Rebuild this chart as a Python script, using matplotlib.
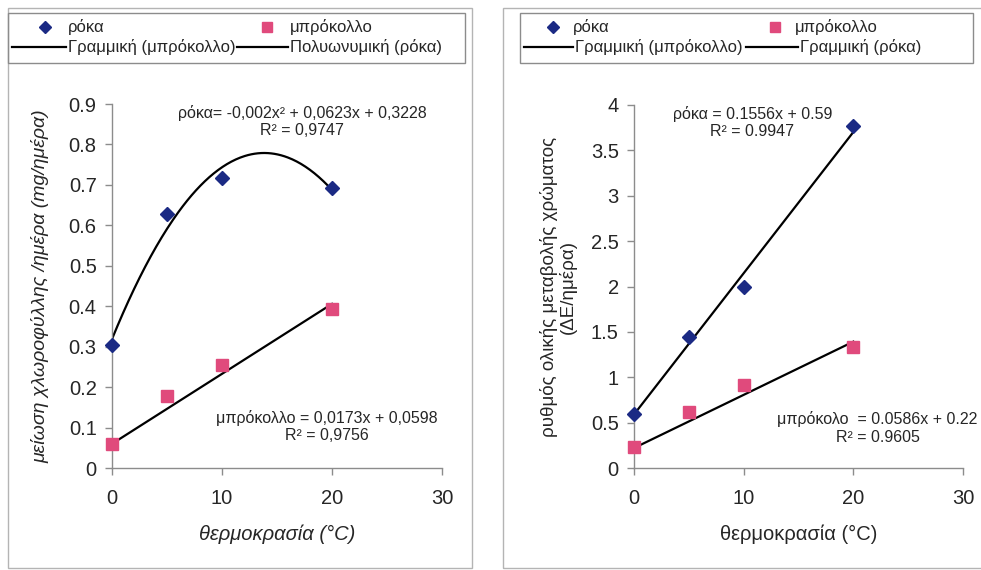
import numpy as np
import matplotlib
matplotlib.use("Agg")
import matplotlib.pyplot as plt
from matplotlib.patches import Rectangle
from matplotlib.lines import Line2D

plt.rcParams['font.family'] = ['Liberation Sans', 'DejaVu Sans']

# ---- data ----
temps = [0, 5, 10, 20]
# left chart: chlorophyll reduction
roka_chl = [0.305, 0.628, 0.716, 0.692]
brocc_chl = [0.060, 0.178, 0.254, 0.392]
# right chart: colour change rate
roka_col = [0.60, 1.44, 2.00, 3.77]
brocc_col = [0.23, 0.62, 0.92, 1.33]

# trendline coefficients shown on the charts (slope, intercept)
brocc_chl_fit = [0.0173, 0.0598]
roka_col_fit = [0.1556, 0.59]
brocc_col_fit = [0.0586, 0.22]

x_ticks = [0, 10, 20, 30]
left_yticks = [0, 0.1, 0.2, 0.3, 0.4, 0.5, 0.6, 0.7, 0.8, 0.9]
left_ylabels = ['0', '0.1', '0.2', '0.3', '0.4', '0.5', '0.6', '0.7', '0.8', '0.9']
right_yticks = [0, 0.5, 1, 1.5, 2, 2.5, 3, 3.5, 4]
right_ylabels = ['0', '0.5', '1', '1.5', '2', '2.5', '3', '3.5', '4']

legend_left = ['ρόκα', 'μπρόκολλο', 'Γραμμική (μπρόκολλο)', 'Πολυωνυμική (ρόκα)']
legend_right = ['ρόκα', 'μπρόκολλο', 'Γραμμική (μπρόκολλο)', 'Γραμμική (ρόκα)']

eq_left_top = "ρόκα= -0,002x² + 0,0623x + 0,3228\nR² = 0,9747"
eq_left_bot = "μπρόκολλο = 0,0173x + 0,0598\nR² = 0,9756"
eq_right_top = "ρόκα = 0.1556x + 0.59\nR² = 0.9947"
eq_right_bot = "μπρόκολο  = 0.0586x + 0.22\nR² = 0.9605"

NAVY = '#1b2a84'
PINK = '#e04a7c'
GRAY = '#8c8c8c'
TXT = '#262626'

TICK_FS = 14.5
LAB_FS = 14.5
EQ_FS = 11.5
LEG_FS = 12

W, H = 981, 570
fig = plt.figure(figsize=(W / 100, H / 100), dpi=100)


def fx(px):
    return px / W


def fy(py):
    return 1 - py / H


def frame(x0, y0, x1, y1, color):
    fig.patches.append(Rectangle((fx(x0), fy(y1)), fx(x1 - x0), (y1 - y0) / H,
                                 transform=fig.transFigure, fill=False,
                                 edgecolor=color, lw=1.0))


# panel frames and legend frames
frame(8, 8, 472, 568, '#b4b4b4')
frame(503, 8, 990, 568, '#b4b4b4')
frame(8, 13, 465, 63, GRAY)
frame(520, 13, 973, 63, GRAY)


def draw_legend(labels, mk1_x, txt1_x, line1, mk2_x, txt2_x, line2, txt3_x, txt4_x):
    r1, r2 = 27, 47
    fig.add_artist(Line2D([fx(mk1_x)], [fy(r1)], marker='D', ls='none',
                          color=NAVY, ms=6.5, transform=fig.transFigure))
    fig.text(fx(txt1_x), fy(r1), labels[0], fontsize=LEG_FS, color=TXT,
             ha='left', va='center')
    fig.add_artist(Line2D([fx(mk2_x)], [fy(r1)], marker='s', ls='none',
                          color=PINK, ms=7.5, transform=fig.transFigure))
    fig.text(fx(txt2_x), fy(r1), labels[1], fontsize=LEG_FS, color=TXT,
             ha='left', va='center')
    fig.add_artist(Line2D([fx(line1[0]), fx(line1[1])], [fy(r2), fy(r2)],
                          color='black', lw=1.6, transform=fig.transFigure))
    fig.text(fx(txt3_x), fy(r2), labels[2], fontsize=LEG_FS, color=TXT,
             ha='left', va='center')
    fig.add_artist(Line2D([fx(line2[0]), fx(line2[1])], [fy(r2), fy(r2)],
                          color='black', lw=1.6, transform=fig.transFigure))
    fig.text(fx(txt4_x), fy(r2), labels[3], fontsize=LEG_FS, color=TXT,
             ha='left', va='center')


draw_legend(legend_left, 45, 68, (12, 66), 267, 290, (237, 288), 68, 290)
draw_legend(legend_right, 553, 573, (524, 573), 775, 795, (746, 798), 575, 800)

axL = fig.add_axes([fx(112), fy(468), fx(442 - 112), (468 - 104) / H])
axR = fig.add_axes([fx(634), fy(468), fx(963 - 634), (468 - 105) / H])


def style(ax):
    ax.set_facecolor('none')
    for s in ['top', 'right']:
        ax.spines[s].set_visible(False)
    for s in ['left', 'bottom']:
        ax.spines[s].set_color(GRAY)
        ax.spines[s].set_linewidth(1.0)
    ax.tick_params(direction='out', length=5, color=GRAY, labelsize=TICK_FS,
                   labelcolor=TXT, width=1.0)
    ax.tick_params(axis='x', pad=10)
    ax.tick_params(axis='y', pad=6)


xx = np.linspace(0, 20, 200)

# ---- left ----
style(axL)
pL = np.polyfit(temps, roka_chl, 2)
axL.plot(xx, np.polyval(brocc_chl_fit, xx), color='black', lw=1.6, zorder=2)
axL.plot(xx, np.polyval(pL, xx), color='black', lw=1.6, zorder=2)
axL.plot(temps, roka_chl, 'D', color=NAVY, ms=7.5, zorder=3, clip_on=False)
axL.plot(temps, brocc_chl, 's', color=PINK, ms=9, zorder=3, clip_on=False)
axL.set_xlim(0, 30)
axL.set_ylim(0, 0.9)
axL.set_xticks(x_ticks)
axL.set_yticks(left_yticks)
axL.set_yticklabels(left_ylabels)
axL.set_xlabel("θερμοκρασία (°C)", fontsize=LAB_FS, style='italic', color=TXT)
axL.xaxis.set_label_coords(0.5, -0.155)
axL.set_ylabel("μείωση χλωροφύλλης /ημέρα (mg/ημέρα)", fontsize=14,
               style='italic', color=TXT)
axL.yaxis.set_label_coords(-0.19, 0.5)
axL.text(17.3, 0.856, eq_left_top, ha='center', va='center', fontsize=EQ_FS,
         color=TXT, linespacing=1.2)
axL.text(19.5, 0.103, eq_left_bot, ha='center', va='center', fontsize=EQ_FS,
         color=TXT, linespacing=1.2)

# ---- right ----
style(axR)
axR.plot(xx, np.polyval(roka_col_fit, xx), color='black', lw=1.6, zorder=2)
axR.plot(xx, np.polyval(brocc_col_fit, xx), color='black', lw=1.6, zorder=2)
axR.plot(temps, roka_col, 'D', color=NAVY, ms=7.5, zorder=3, clip_on=False)
axR.plot(temps, brocc_col, 's', color=PINK, ms=9, zorder=3, clip_on=False)
axR.set_xlim(0, 30)
axR.set_ylim(0, 4)
axR.set_xticks(x_ticks)
axR.set_yticks(right_yticks)
axR.set_yticklabels(right_ylabels)
axR.set_xlabel("θερμοκρασία (°C)", fontsize=LAB_FS, color=TXT)
axR.xaxis.set_label_coords(0.5, -0.155)
axR.set_ylabel("ρυθμός ολικής μεταβολής χρώματος\n(ΔΕ/ημέρα)", fontsize=13.5,
               color=TXT, linespacing=1.05)
axR.yaxis.set_label_coords(-0.175, 0.5)
axR.text(10.8, 3.81, eq_right_top, ha='center', va='center', fontsize=EQ_FS,
         color=TXT, linespacing=1.2)
axR.text(22.2, 0.44, eq_right_bot, ha='center', va='center', fontsize=EQ_FS,
         color=TXT, linespacing=1.2)

fig.savefig("out.png", dpi=100)
